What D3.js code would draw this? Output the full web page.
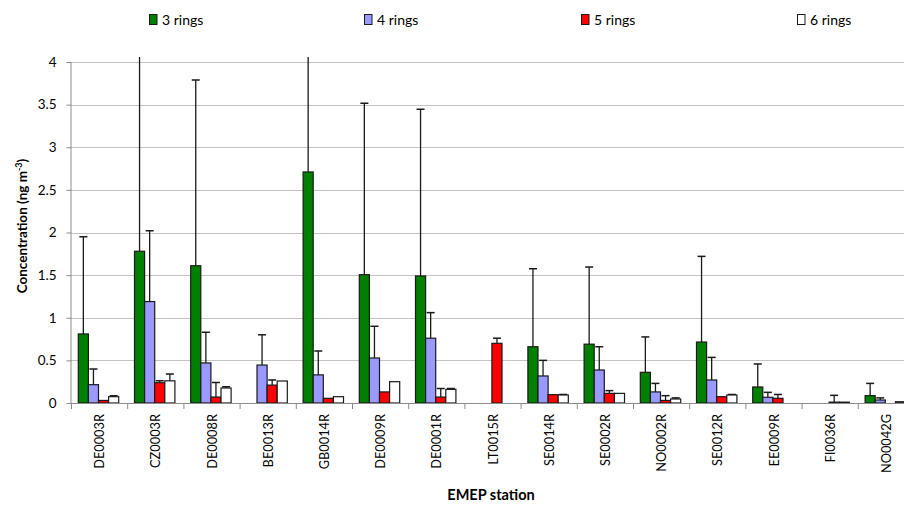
<!DOCTYPE html>
<html>
<head>
<meta charset="utf-8">
<script src="https://cdn.jsdelivr.net/npm/d3@7"></script>
<style>
  html, body { margin: 0; padding: 0; background: #fff; }
  svg { display: block; font-family: Lato, "Open Sans", sans-serif; }
</style>
</head>
<body>
<svg id="chart" width="904" height="506"></svg>
<script>
// EMEP stations along the x axis
const stations = ["DE0003R", "CZ0003R", "DE0008R", "BE0013R", "GB0014R", "DE0009R", "DE0001R",
  "LT0015R", "SE0014R", "SE0002R", "NO0002R", "SE0012R", "EE0009R", "FI0036R", "NO0042G"];

const seriesNames = ["3 rings", "4 rings", "5 rings", "6 rings"];

// Mean concentrations (ng m-3); null = not measured
const rings3 = [0.81, 1.78, 1.61, null, 2.71, 1.505, 1.49, null, 0.66, 0.69, 0.36, 0.715, 0.188, null, 0.086];
const rings4 = [0.215, 1.19, 0.47, 0.445, 0.33, 0.528, 0.76, null, 0.317, 0.387, 0.13, 0.27, 0.067, null, 0.035];
const rings5 = [0.03, 0.238, 0.07, 0.21, 0.055, 0.13, 0.07, 0.70, 0.098, 0.113, 0.03, 0.074, 0.055, 0.01, null];
const rings6 = [0.074, 0.26, 0.176, 0.258, 0.074, 0.25, 0.16, null, 0.094, 0.113, 0.047, 0.094, null, 0.01, 0.015];

// Upper standard deviations (ng m-3)
const rings3Sd = [1.14, 2.6, 2.18, null, 1.8, 2.01, 1.955, null, 0.915, 0.905, 0.415, 1.005, 0.27, null, 0.144];
const rings4Sd = [0.185, 0.83, 0.36, 0.355, 0.28, 0.372, 0.30, null, 0.183, 0.273, 0.10, 0.265, 0.058, null, 0.025];
const rings5Sd = [0, 0.022, 0.17, 0.06, 0, 0, 0.10, 0.06, 0, 0.032, 0.056, 0, 0.045, 0.08, null];
const rings6Sd = [0.011, 0.08, 0.014, 0, 0, 0, 0.01, null, 0.006, 0, 0.013, 0.006, null, 0, 0];

const yTicks = [0, 0.5, 1, 1.5, 2, 2.5, 3, 3.5, 4];
const colors = ["#008000", "#9999ff", "#ff0000", "#ffffff"];

const values = [rings3, rings4, rings5, rings6];
const sds = [rings3Sd, rings4Sd, rings5Sd, rings6Sd];

const svg = d3.select("#chart");

const plotLeft = 71.5, plotRight = 914.5, plotTop = 62, plotBottom = 403;

const x = d3.scaleBand().domain(stations).range([plotLeft, plotRight]).paddingInner(0).paddingOuter(0);
const bw = x.bandwidth();
const x1 = d3.scaleBand().domain(seriesNames).range([bw * 0.121, bw * 0.84]).padding(0);
const y = d3.scaleLinear().domain([0, 4]).range([plotBottom, plotTop]);

// clip for the plot area (long error bars run past the top)
svg.append("defs").append("clipPath").attr("id", "plotClip")
  .append("rect").attr("x", plotLeft - 1).attr("y", 57).attr("width", 904).attr("height", plotBottom - 57 + 1);

// horizontal gridlines
svg.append("g").selectAll("line").data(yTicks.filter(d => d > 0)).join("line")
  .attr("x1", plotLeft).attr("x2", plotRight)
  .attr("y1", d => Math.round(y(d)) + 0.5).attr("y2", d => Math.round(y(d)) + 0.5)
  .attr("stroke", "#c4c4c4").attr("stroke-width", 1.2);

// y axis
const yAxis = svg.append("g").attr("transform", `translate(${plotLeft},0)`)
  .call(d3.axisLeft(y).tickValues(yTicks).tickSize(5).tickPadding(10).tickFormat(d => String(d)));
yAxis.selectAll("path, line").attr("stroke", "#8c8c8c");
yAxis.select(".domain").attr("d", `M-0.5,${plotTop}V${plotBottom}`);
yAxis.selectAll("text").attr("font-family", "Lato, sans-serif").attr("font-size", 13.5).attr("fill", "#000");

// bars
const plot = svg.append("g").attr("clip-path", "url(#plotClip)");
const groups = plot.selectAll("g.station").data(stations).join("g")
  .attr("class", "station")
  .attr("transform", d => `translate(${x(d)},0)`);

const cells = (st, i) => seriesNames.map((s, k) => ({ s, k, v: values[k][i], sd: sds[k][i] }))
  .filter(c => c.v !== null);

groups.each(function (st, i) {
  const g = d3.select(this);
  const data = cells(st, i);
  // error bars (upper side only), drawn behind the bars
  const eb = data.filter(c => c.sd);
  g.selectAll("line.err").data(eb).join("line").attr("class", "err")
    .attr("x1", c => x1(c.s) + x1.bandwidth() / 2).attr("x2", c => x1(c.s) + x1.bandwidth() / 2)
    .attr("y1", c => y(c.v)).attr("y2", c => y(c.v + c.sd))
    .attr("stroke", "#1a1a1a").attr("stroke-width", 1.3);
  g.selectAll("line.cap").data(eb).join("line").attr("class", "cap")
    .attr("x1", c => x1(c.s) + x1.bandwidth() / 2 - 4).attr("x2", c => x1(c.s) + x1.bandwidth() / 2 + 4)
    .attr("y1", c => y(c.v + c.sd)).attr("y2", c => y(c.v + c.sd))
    .attr("stroke", "#1a1a1a").attr("stroke-width", 1.5);
  g.selectAll("rect").data(data).join("rect")
    .attr("x", c => x1(c.s)).attr("width", x1.bandwidth())
    .attr("y", c => y(c.v)).attr("height", c => y(0) - y(c.v))
    .attr("fill", c => colors[c.k])
    .attr("stroke", "#1a1a1a").attr("stroke-width", 1.2);
});

// x axis line and category boundary ticks
const xAxis = svg.append("g");
xAxis.append("line").attr("x1", plotLeft).attr("x2", plotRight)
  .attr("y1", plotBottom + 0.5).attr("y2", plotBottom + 0.5).attr("stroke", "#8c8c8c");
xAxis.selectAll("line.tick").data(stations).join("line").attr("class", "tick")
  .attr("x1", d => x(d)).attr("x2", d => x(d))
  .attr("y1", plotBottom).attr("y2", plotBottom + 6).attr("stroke", "#8c8c8c");
xAxis.selectAll("text").data(stations).join("text")
  .attr("transform", d => `translate(${x(d) + bw / 2 + 4.5},414) rotate(-90)`)
  .attr("text-anchor", "end")
  .attr("font-size", 12.8).attr("fill", "#000")
  .text(d => d);

// axis titles
svg.append("text").attr("x", 491).attr("y", 500).attr("text-anchor", "middle")
  .attr("font-weight", "bold").attr("font-size", 14.5).text("EMEP station");

const yTitle = svg.append("text").attr("transform", "translate(27,226) rotate(-90)")
  .attr("text-anchor", "middle").attr("font-weight", "bold").attr("font-size", 13.5);
yTitle.append("tspan").text("Concentration (ng m");
yTitle.append("tspan").attr("dy", -5).attr("font-size", 9).text("-3");
yTitle.append("tspan").attr("dy", 5).text(")");

// legend across the top
const legendX = [149, 364, 581, 797];
const legend = svg.append("g").selectAll("g").data(seriesNames).join("g")
  .attr("transform", (d, i) => `translate(${legendX[i]},14)`);
legend.append("rect").attr("x", 0.5).attr("y", 0.5).attr("width", 7.5).attr("height", 10)
  .attr("fill", (d, i) => colors[i]).attr("stroke", "#1a1a1a").attr("stroke-width", 1);
legend.append("text").attr("x", 13).attr("y", 10.5).attr("font-size", 14).text(d => d);
</script>
</body>
</html>
